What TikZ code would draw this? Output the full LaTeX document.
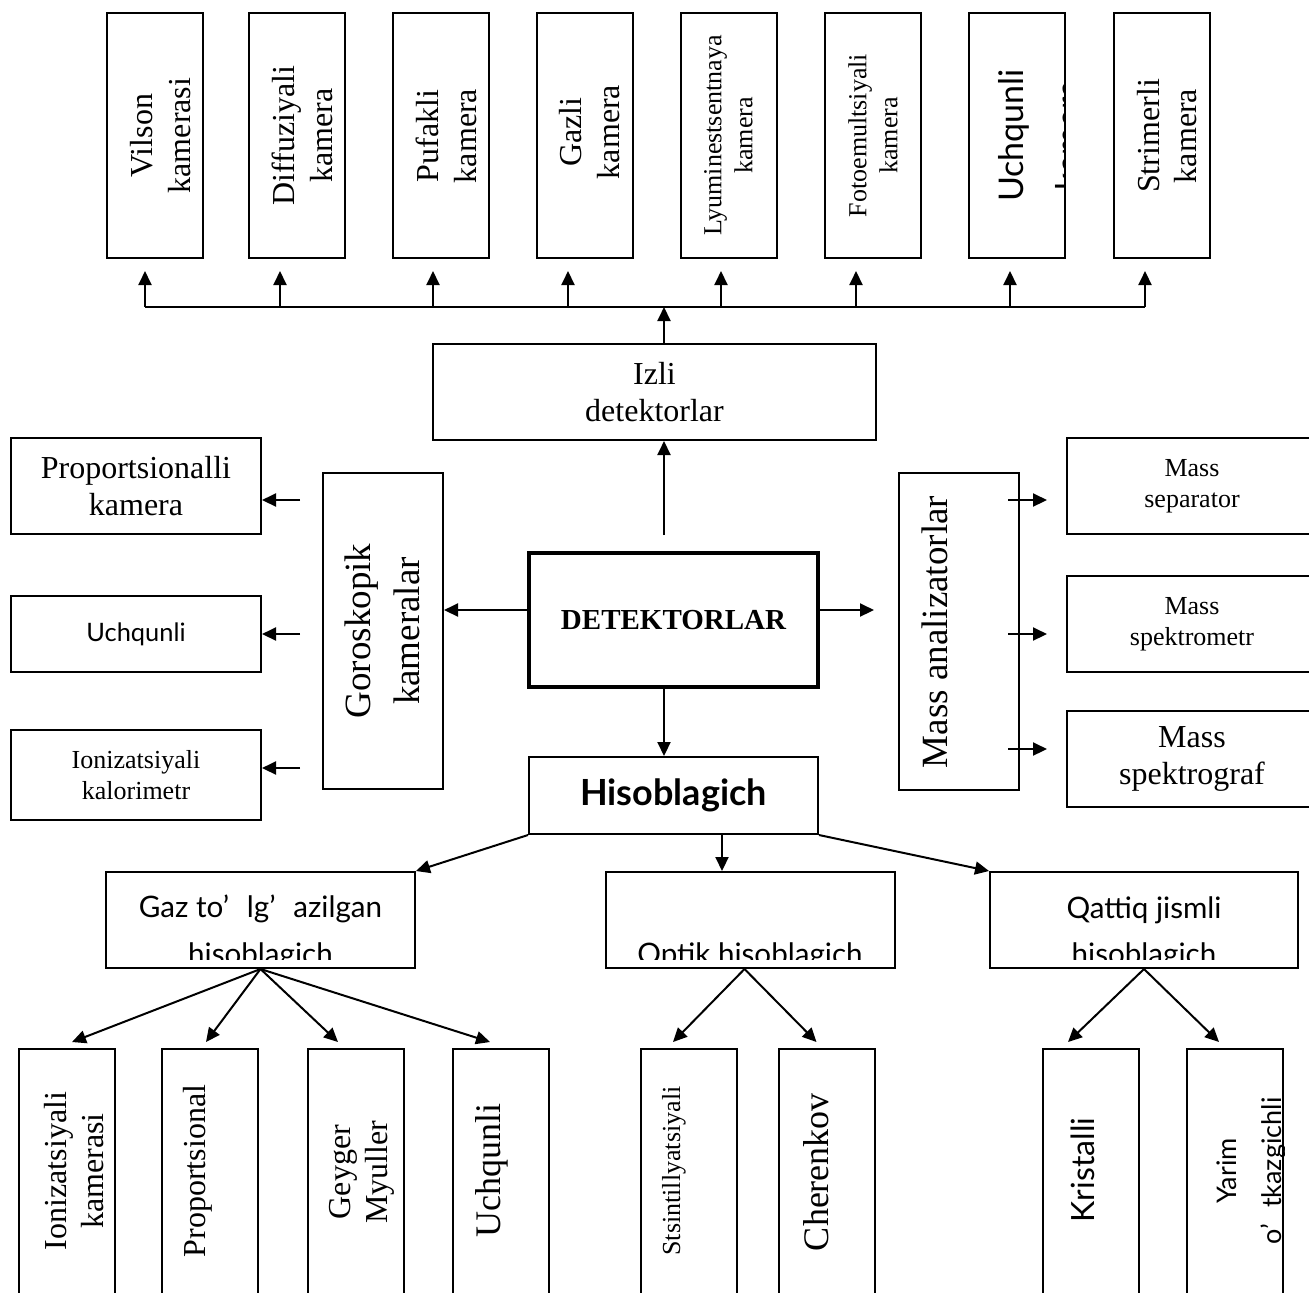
\documentclass[tikz,border=0pt]{standalone}
\usepackage{fontspec}
\setmainfont{Liberation Serif}
\newfontfamily\uisans{Lato}
\usetikzlibrary{arrows.meta}

\tikzset{
  box/.style={draw, line width=1pt, inner sep=0pt},
  topbox/.style={box, minimum width=48pt, minimum height=122.5pt},
  lowbox/.style={box, minimum width=48pt, minimum height=123.5pt},
  sidebox/.style={box, minimum width=125pt, align=center},
  vtext/.style={rotate=90, align=center, inner sep=0pt},
  arr/.style={line width=1pt, -{Triangle[length=7pt,width=6.5pt]}},
  rm16/.style={font=\fontsize{16}{18.7}\selectfont},
  rm13/.style={font=\fontsize{13}{15.5}\selectfont},
  rm18/.style={font=\fontsize{18}{24.5}\selectfont},
  sf/.style={font=\uisans\fontsize{#1}{#1}\selectfont},
}

\begin{document}
\begin{tikzpicture}[x=0.5pt, y=-0.5pt]
\useasboundingbox (0,0) rectangle (1309,1292);

% track detectors, top row
\node[topbox] (vilson) at (154.5,135.5) {};
\node[topbox] (diffuz) at (296.5,135.5) {};
\node[topbox] (pufak) at (440.5,135.5) {};
\node[topbox] (gazli) at (585,135.5) {};
\node[topbox] (lyumin) at (728.5,135.5) {};
\node[topbox] (fotoem) at (873,135.5) {};
\node[topbox] (uchq) at (1016.5,135.5) {};
\node[topbox] (strim) at (1161.5,135.5) {};

\node[vtext, rm16] (vilson-t) at (160.5,135.5) {Vilson\\kamerasi};
\node[vtext, rm16] (diffuz-t) at (302.5,135.5) {Diffuziyali\\kamera};
\node[vtext, rm16] (pufak-t) at (446.5,136) {Pufakli\\kamera};
\node[vtext, rm16] (gazli-t) at (589.5,132) {Gazli\\kamera};
\node[vtext, rm13] (lyumin-t) at (728.5,135.5) {Lyuminestsentnaya\\kamera};
\node[vtext, rm13] (fotoem-t) at (873,135.5) {Fotoemultsiyali\\kamera};
\node[vtext, rm16] (strim-t) at (1167,136) {Strimerli\\kamera};
\begin{scope}
  \clip (uchq.south west) rectangle (uchq.north east);
  \node[vtext, sf=17, anchor=base] (uchq-a) at (1023,135.5) {Uchqunli};
  \node[vtext, sf=17, anchor=base] (uchq-b) at (1080,135.5) {kamera};
\end{scope}

% bus under the top row
\coordinate (b1) at (145,307);
\coordinate (b2) at (280,307);
\coordinate (b3) at (433,307);
\coordinate (b4) at (568,307);
\coordinate (b5) at (721,307);
\coordinate (b6) at (856,307);
\coordinate (b7) at (1010,307);
\coordinate (b8) at (1145,307);
\draw[line width=1pt] (b1) -- (b8);
\foreach \b/\n in {b1/vilson, b2/diffuz, b3/pufak, b4/gazli, b5/lyumin, b6/fotoem, b7/uchq, b8/strim}
  \draw[arr, shorten >=6pt] (\b) -- (\b |- \n.south);

% centre column
\node[box, minimum width=221.5pt, minimum height=48pt, align=center, rm16] (izli) at (654.5,392) {Izli\\detektorlar};
\node[box, line width=1.7pt, minimum width=144.5pt, minimum height=67pt, font=\bfseries\fontsize{14.5}{17}\selectfont] (det) at (673.5,620) {DETEKTORLAR};
\node[box, minimum width=144.5pt, minimum height=38.5pt, font=\uisans\bfseries\fontsize{18}{18}\selectfont] (his) at (673.5,795.5) {Hisoblagich};

\coordinate (up) at (664,535);
\draw[arr] (up) -- (up |- izli.south);
\draw[arr] (up |- izli.north) -- (up |- b1);
\draw[arr] (up |- det.south) -- (up |- his.north);

% left side
\node[box, minimum width=60pt, minimum height=158pt] (gor) at (383,631) {};
\node[vtext, font=\fontsize{18.5}{24.5}\selectfont] (gor-t) at (382,631) {Goroskopik\\kameralar};
\node[sidebox, minimum height=48pt, rm16] (propk) at (136,486) {Proportsionalli\\kamera};
\node[sidebox, minimum height=38pt, sf=12.7] (uchql) at (136,634) {Uchqunli};
\node[sidebox, minimum height=45pt, rm13] (ionkal) at (136,775) {Ionizatsiyali\\kalorimetr};

\coordinate (dl) at ([yshift=5pt]det.west);
\draw[arr] (dl) -- (dl -| gor.east);
\coordinate (g1) at (300,500);
\coordinate (g2) at (300,634);
\coordinate (g3) at (300,768);
\draw[arr] (g1) -- (g1 -| propk.east);
\draw[arr] (g2) -- (g2 -| uchql.east);
\draw[arr] (g3) -- (g3 -| ionkal.east);

% right side
\node[box, minimum width=60pt, minimum height=158.5pt] (mass) at (959,631.5) {};
\node[vtext, font=\fontsize{18.5}{24.5}\selectfont] (mass-t) at (935,632) {Mass analizatorlar};
\node[sidebox, minimum height=48pt, rm13] (msep) at (1192,486) {Mass\\separator};
\node[sidebox, minimum height=48pt, rm13] (mspm) at (1192,624) {Mass\\spektrometr};
\node[sidebox, minimum height=48pt, rm16] (mspg) at (1192,759) {Mass\\spektrograf};

\coordinate (dr) at ([yshift=5pt]det.east);
\draw[arr, shorten >=12pt] (dr) -- (dr -| mass.west);
\coordinate (m1) at (1008,500);
\coordinate (m2) at (1008,634);
\coordinate (m3) at (1008,749);
\draw[arr, shorten >=9.5pt] (m1) -- (m1 -| msep.west);
\draw[arr, shorten >=9.5pt] (m2) -- (m2 -| mspm.west);
\draw[arr, shorten >=9.5pt] (m3) -- (m3 -| mspg.west);

% counters
\node[box, minimum width=154.5pt, minimum height=48pt] (gaz) at (260.5,920) {};
\node[box, minimum width=144.5pt, minimum height=48pt] (optik) at (750.5,920) {};
\node[box, minimum width=154pt, minimum height=48pt] (qattiq) at (1144,920) {};
\begin{scope}
  \clip (gaz.north west) rectangle ([yshift=5pt]gaz.south east);
  \node[sf=14.8, anchor=base] (gaz-a) at (260.5,917) {Gaz to’\hspace{0.6em}lg’\hspace{0.6em}azilgan};
  \node[sf=14.8, anchor=base] (gaz-b) at (260.5,964) {hisoblagich};
\end{scope}
\begin{scope}
  \clip (optik.north west) rectangle ([yshift=5pt]optik.south east);
  \node[sf=14.8, anchor=base] (optik-a) at (750,964) {Optik hisoblagich};
\end{scope}
\begin{scope}
  \clip (qattiq.north west) rectangle ([yshift=5pt]qattiq.south east);
  \node[sf=14.8, anchor=base] (qattiq-a) at (1144,918) {Qattiq jismli};
  \node[sf=14.8, anchor=base] (qattiq-b) at (1144,964) {hisoblagich};
\end{scope}

\coordinate (hd) at (722,834);
\draw[arr] (his.south west) -- (gaz.north east);
\draw[arr] (hd) -- (hd |- optik.north);
\draw[arr] (his.south east) -- (qattiq.north west);

% bottom row
\node[lowbox] (ionk) at (67,1172.5) {};
\node[lowbox] (propc) at (210,1172.5) {};
\node[lowbox] (geyger) at (356,1172.5) {};
\node[lowbox] (uchqc) at (501,1172.5) {};
\node[lowbox] (stsint) at (689,1172.5) {};
\node[lowbox] (cheren) at (826.5,1172.5) {};
\node[lowbox] (krist) at (1091,1172.5) {};
\node[lowbox] (yarim) at (1235,1172.5) {};

\node[vtext, rm16] (ionk-t) at (74,1171) {Ionizatsiyali\\kamerasi};
\node[vtext, rm16] (propc-t) at (198,1171) {Proportsional};
\node[vtext, rm16] (geyger-t) at (362,1172) {Geyger\\Myuller};
\node[vtext, rm18] (uchqc-t) at (492,1170) {Uchqunli};
\node[vtext, rm13] (stsint-t) at (674,1171) {Stsintillyatsiyali};
\node[vtext, rm18] (cheren-t) at (816,1172) {Cherenkov};
\node[vtext, sf=16] (krist-t) at (1083,1170) {Kristalli};
\begin{scope}
  \clip (yarim.south west) rectangle (yarim.north east);
  \node[vtext, sf=13.5, anchor=base] (yarim-a) at (1236,1171) {Yarim};
  \node[vtext, sf=13.5, anchor=base] (yarim-b) at (1281,1171) {o’\hspace{0.6em}tkazgichli};
\end{scope}

\draw[arr] (gaz.south) -- ([xshift=2.5pt,yshift=3pt]ionk.north);
\draw[arr] (gaz.south) -- ([xshift=-2pt,yshift=3pt]propc.north);
\draw[arr] (gaz.south) -- ([xshift=-9pt,yshift=3pt]geyger.north);
\draw[arr] (gaz.south) -- ([xshift=-5.5pt,yshift=3pt]uchqc.north);
\draw[arr] ([xshift=-3pt]optik.south) -- ([xshift=-8pt,yshift=3pt]stsint.north);
\draw[arr] ([xshift=-3pt]optik.south) -- ([xshift=-5pt,yshift=3pt]cheren.north);
\draw[arr] (qattiq.south) -- ([xshift=-11.5pt,yshift=3pt]krist.north);
\draw[arr] (qattiq.south) -- ([xshift=-8pt,yshift=3pt]yarim.north);
\end{tikzpicture}
\end{document}
